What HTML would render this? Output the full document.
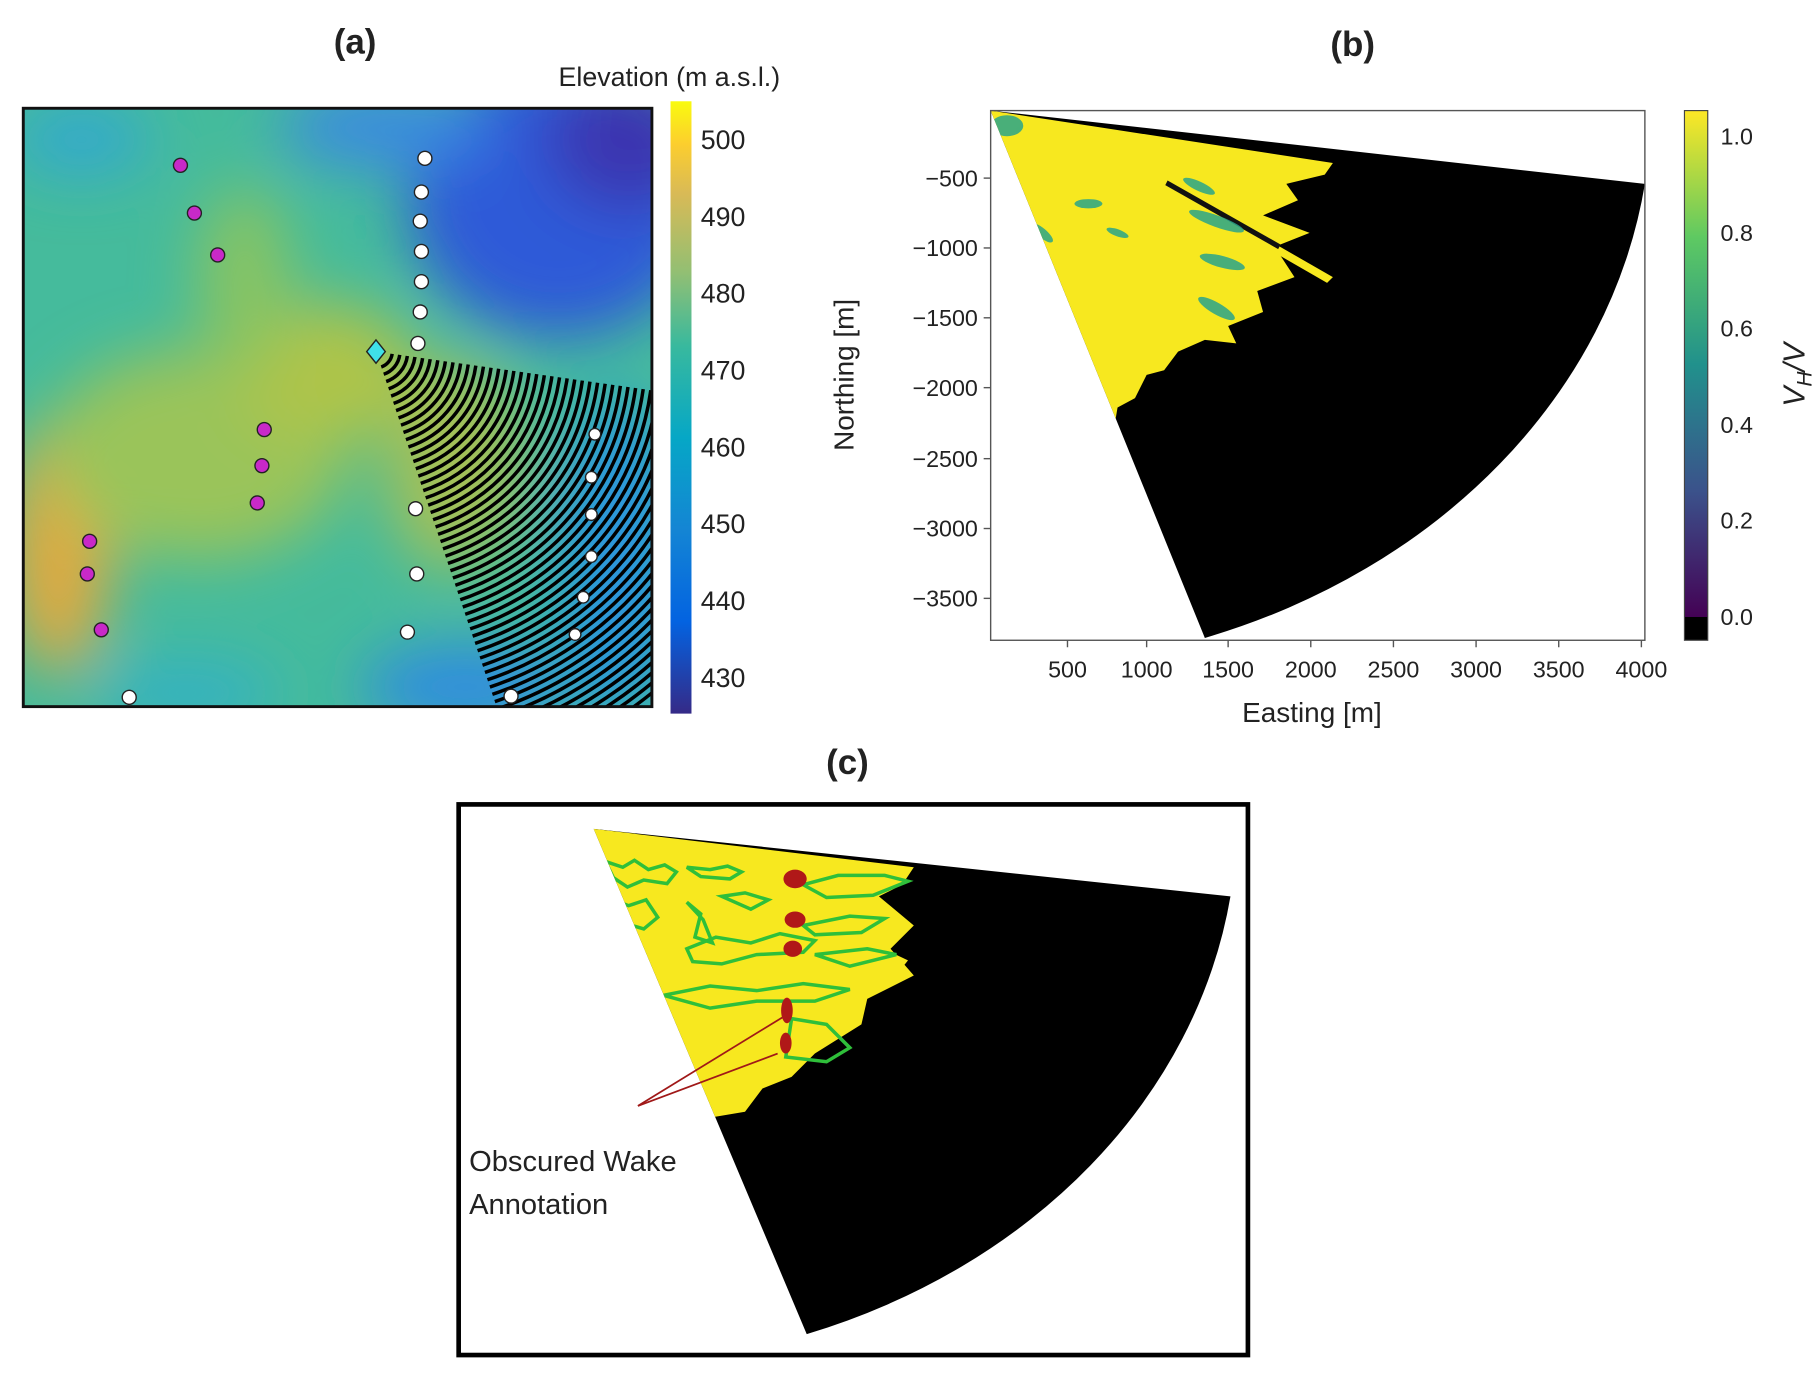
<!DOCTYPE html>
<html><head><meta charset="utf-8"><style>
html,body{margin:0;padding:0;background:#fff;}
svg{display:block;}
text{font-family:"Liberation Sans",sans-serif;fill:#222;}
</style></head><body>
<svg id="s" width="1816" height="1376" viewBox="0 0 1560 1182" preserveAspectRatio="none" xmlns="http://www.w3.org/2000/svg">
<defs>
<linearGradient id="parula" x1="0" y1="1" x2="0" y2="0">
<stop offset="0" stop-color="#352a87"/><stop offset="0.15" stop-color="#0363e1"/><stop offset="0.3" stop-color="#1485d4"/><stop offset="0.45" stop-color="#06a7c6"/><stop offset="0.6" stop-color="#38b99e"/><stop offset="0.72" stop-color="#92bf73"/><stop offset="0.85" stop-color="#d9ba56"/><stop offset="0.93" stop-color="#fcce2e"/><stop offset="1" stop-color="#f9fb0e"/>
</linearGradient>
<linearGradient id="viridis" x1="0" y1="1" x2="0" y2="0">
<stop offset="0" stop-color="#440154"/><stop offset="0.25" stop-color="#3b528b"/><stop offset="0.5" stop-color="#21918c"/><stop offset="0.75" stop-color="#5ec962"/><stop offset="1" stop-color="#fde725"/>
</linearGradient>
<clipPath id="boxa"><rect x="20" y="93" width="540" height="514"/></clipPath>
<clipPath id="wa"><path d="M323,302 L900,180 L560,1000 Z"/></clipPath>
<clipPath id="wb"><path d="M851,95 L1413,158 A570,484 0 0,1 1035,548 Z"/></clipPath>
<clipPath id="wc"><path d="M510,712 L1057,770 A555,470 0 0,1 693,1146 Z"/></clipPath>
<filter id="blur"><feGaussianBlur stdDeviation="26"/></filter>
</defs>

<!-- Panel a -->
<text x="305" y="46" font-size="30" font-weight="bold" text-anchor="middle">(a)</text>
<text x="575" y="74" font-size="23" text-anchor="middle">Elevation (m a.s.l.)</text>
<g clip-path="url(#boxa)">
<rect x="20" y="93" width="540" height="514" fill="#45bb9c"/>
<g filter="url(#blur)">
<ellipse cx="480" cy="170" rx="130" ry="120" fill="#2f5ad8"/>
<ellipse cx="540" cy="120" rx="70" ry="60" fill="#3b36b0"/>
<ellipse cx="330" cy="110" rx="90" ry="35" fill="#3a8ae0"/>
<ellipse cx="70" cy="120" rx="60" ry="30" fill="#30a8d0"/>
<ellipse cx="50" cy="470" rx="45" ry="110" fill="#e0aa40"/>
<ellipse cx="170" cy="390" rx="130" ry="90" fill="#9ac45a"/>
<ellipse cx="280" cy="320" rx="80" ry="60" fill="#aec44a"/>
<ellipse cx="210" cy="240" rx="40" ry="80" fill="#88c462"/>
<ellipse cx="390" cy="400" rx="60" ry="90" fill="#a4c056"/>
<ellipse cx="530" cy="480" rx="50" ry="140" fill="#2a95dc"/>
<ellipse cx="400" cy="590" rx="90" ry="35" fill="#2f8ae2"/>
<ellipse cx="160" cy="595" rx="80" ry="25" fill="#30b0c8"/>
</g>
<g id="arcs" clip-path="url(#wa)" fill="none" stroke="#000" stroke-width="3"></g>
</g>
<rect x="20" y="93" width="540" height="514" fill="none" stroke="#111" stroke-width="2.5"/>
<g stroke="#222" stroke-width="1.2">
<circle cx="155" cy="142" r="6" fill="#c829c8"/><circle cx="167" cy="183" r="6" fill="#c829c8"/><circle cx="187" cy="219" r="6" fill="#c829c8"/>
<circle cx="227" cy="369" r="6" fill="#c829c8"/><circle cx="225" cy="400" r="6" fill="#c829c8"/><circle cx="221" cy="432" r="6" fill="#c829c8"/>
<circle cx="77" cy="465" r="6" fill="#c829c8"/><circle cx="75" cy="493" r="6" fill="#c829c8"/><circle cx="87" cy="541" r="6" fill="#c829c8"/>
<circle cx="365" cy="136" r="6" fill="#fff"/><circle cx="362" cy="165" r="6" fill="#fff"/><circle cx="361" cy="190" r="6" fill="#fff"/><circle cx="362" cy="216" r="6" fill="#fff"/><circle cx="362" cy="242" r="6" fill="#fff"/><circle cx="361" cy="268" r="6" fill="#fff"/><circle cx="359" cy="295" r="6" fill="#fff"/>
<circle cx="357" cy="437" r="6" fill="#fff"/><circle cx="358" cy="493" r="6" fill="#fff"/><circle cx="350" cy="543" r="6" fill="#fff"/><circle cx="111" cy="599" r="6" fill="#fff"/><circle cx="439" cy="598" r="6" fill="#fff"/>
<circle cx="511" cy="373" r="5" fill="#fff"/><circle cx="508" cy="410" r="5" fill="#fff"/><circle cx="508" cy="442" r="5" fill="#fff"/><circle cx="508" cy="478" r="5" fill="#fff"/><circle cx="501" cy="513" r="5" fill="#fff"/><circle cx="494" cy="545" r="5" fill="#fff"/>
</g>
<path d="M323,292 L331,302 L323,312 L315,302 Z" fill="#3fe0e8" stroke="#222" stroke-width="1.2"/>
<rect x="576" y="87" width="18" height="526" fill="url(#parula)"/>
<g font-size="23" fill="#333">
<text x="602" y="128">500</text><text x="602" y="194">490</text><text x="602" y="260">480</text><text x="602" y="326">470</text><text x="602" y="392">460</text><text x="602" y="458">450</text><text x="602" y="524">440</text><text x="602" y="590">430</text>
</g>

<!-- Panel b -->
<text x="1162" y="48" font-size="30" font-weight="bold" text-anchor="middle">(b)</text>
<path d="M851,95 L1413,158 A570,484 0 0,1 1035,548 Z" fill="#000"/>
<g clip-path="url(#wb)">
<path d="M851,95 L1145,140 1138,150 1105,158 1115,172 1085,185 1125,200 1095,212 1112,238 1080,250 1085,268 1055,280 1062,295 1035,292 1012,302 1000,318 985,322 975,342 960,350 958,362 900,400 800,300 Z" fill="#f7e81f"/>
<path d="M1000,155 L1145,238 1140,243 996,160 Z" fill="#f7e81f"/>
<path d="M1003,155 L1100,210 1098,214 1001,159 Z" fill="#111"/>
<g fill="#2aa58a" opacity="0.85">
<ellipse cx="1045" cy="190" rx="25" ry="5" transform="rotate(20 1045 190)"/>
<ellipse cx="1050" cy="225" rx="20" ry="5" transform="rotate(15 1050 225)"/>
<ellipse cx="1045" cy="265" rx="18" ry="5" transform="rotate(30 1045 265)"/>
<ellipse cx="1030" cy="160" rx="15" ry="4" transform="rotate(25 1030 160)"/>
<ellipse cx="895" cy="200" rx="12" ry="4" transform="rotate(40 895 200)"/>
<ellipse cx="935" cy="175" rx="12" ry="4"/>
<ellipse cx="960" cy="200" rx="10" ry="3" transform="rotate(20 960 200)"/>
<ellipse cx="865" cy="108" rx="14" ry="9"/>
</g>
</g>
<rect x="851" y="95" width="562" height="455" fill="none" stroke="#555" stroke-width="1.2"/>
<g stroke="#555" stroke-width="1.2">
<line x1="845" y1="153" x2="851" y2="153"/><line x1="845" y1="213" x2="851" y2="213"/><line x1="845" y1="273" x2="851" y2="273"/><line x1="845" y1="333" x2="851" y2="333"/><line x1="845" y1="394" x2="851" y2="394"/><line x1="845" y1="454" x2="851" y2="454"/><line x1="845" y1="514" x2="851" y2="514"/>
<line x1="917" y1="550" x2="917" y2="556"/><line x1="985" y1="550" x2="985" y2="556"/><line x1="1055" y1="550" x2="1055" y2="556"/><line x1="1126" y1="550" x2="1126" y2="556"/><line x1="1197" y1="550" x2="1197" y2="556"/><line x1="1268" y1="550" x2="1268" y2="556"/><line x1="1339" y1="550" x2="1339" y2="556"/><line x1="1410" y1="550" x2="1410" y2="556"/>
</g>
<g font-size="20" fill="#333" text-anchor="end">
<text x="840" y="160">−500</text><text x="840" y="220">−1000</text><text x="840" y="280">−1500</text><text x="840" y="340">−2000</text><text x="840" y="401">−2500</text><text x="840" y="461">−3000</text><text x="840" y="521">−3500</text>
</g>
<g font-size="20" fill="#333" text-anchor="middle">
<text x="917" y="582">500</text><text x="985" y="582">1000</text><text x="1055" y="582">1500</text><text x="1126" y="582">2000</text><text x="1197" y="582">2500</text><text x="1268" y="582">3000</text><text x="1339" y="582">3500</text><text x="1410" y="582">4000</text>
</g>
<text x="1127" y="620" font-size="24" text-anchor="middle">Easting [m]</text>
<text transform="translate(733,322) rotate(-90)" font-size="24" text-anchor="middle">Northing [m]</text>
<rect x="1447" y="95" width="20" height="436" fill="url(#viridis)"/>
<rect x="1447" y="530" width="20" height="20" fill="#000"/>
<rect x="1447" y="95" width="20" height="455" fill="none" stroke="#444" stroke-width="1"/>
<g font-size="20" fill="#333">
<text x="1478" y="124">1.0</text><text x="1478" y="207">0.8</text><text x="1478" y="289">0.6</text><text x="1478" y="372">0.4</text><text x="1478" y="454">0.2</text><text x="1478" y="537">0.0</text>
</g>
<text transform="translate(1550,322) rotate(-90)" font-size="26" font-style="italic" text-anchor="middle">V<tspan font-size="18" dy="6">H</tspan><tspan dy="-6">/V</tspan></text>

<!-- Panel c -->
<text x="728" y="665" font-size="30" font-weight="bold" text-anchor="middle">(c)</text>
<rect x="394" y="691" width="678" height="473" fill="none" stroke="#000" stroke-width="4"/>
<path d="M510,712 L1057,770 A555,470 0 0,1 693,1146 Z" fill="#000"/>
<g clip-path="url(#wc)">
<path d="M510,712 L785,745 775,760 755,770 785,795 765,815 785,838 745,858 740,880 700,905 680,925 655,935 640,955 610,960 550,990 480,800 Z" fill="#f7e81f"/>
<path d="M660,768 L780,825 776,830 656,773 Z" fill="#f7e81f"/>
<g fill="none" stroke="#2fbf3a" stroke-width="3">
<path d="M520,740 l15,5 10,-6 12,8 14,-4 10,6 -8,10 -20,-3 -14,6 -12,-8 z"/>
<path d="M590,745 l20,2 15,-3 12,5 -10,6 -25,-2 z"/>
<path d="M520,770 l20,8 15,-5 10,15 -12,10 -20,-6 -8,-12 z"/>
<path d="M590,775 l12,10 -5,20 15,5 -8,-20 z"/>
<path d="M620,770 l20,-3 20,6 -15,8 z"/>
<path d="M590,815 l25,-10 30,5 25,-8 30,6 -10,10 -40,2 -30,8 -25,-2 z"/>
<path d="M525,815 l15,10 -5,25 15,15 -12,-10 -8,-20 z"/>
<path d="M690,760 l30,-8 40,0 20,5 -30,12 -40,2 z"/>
<path d="M690,795 l40,-8 30,2 -20,12 -40,2 z"/>
<path d="M700,820 l45,-5 25,5 -40,10 z"/>
<path d="M570,855 l40,-8 40,4 40,-6 40,5 -30,10 -50,0 -40,6 z"/>
<path d="M680,875 l30,5 20,20 -20,12 -35,-4 z"/>
</g>
<g fill="#b01818">
<ellipse cx="683" cy="755" rx="10" ry="8"/><ellipse cx="683" cy="790" rx="9" ry="7"/><ellipse cx="681" cy="815" rx="8" ry="7"/>
<ellipse cx="676" cy="868" rx="5" ry="11"/><ellipse cx="675" cy="896" rx="5" ry="9"/>
</g>
</g>
<g stroke="#a01818" stroke-width="1.5" fill="none">
<line x1="548" y1="950" x2="672" y2="874"/><line x1="548" y1="950" x2="668" y2="905"/>
</g>
<text x="403" y="1006" font-size="25">Obscured Wake</text>
<text x="403" y="1043" font-size="25">Annotation</text>
</svg>
<script>
var g=document.getElementById('arcs'),s='';
var a1=8*Math.PI/180,a2=72*Math.PI/180;
for(var r=14;r<380;r+=6.6){
 var x1=323+r*Math.cos(a1),y1=302+r*Math.sin(a1),x2=323+r*Math.cos(a2),y2=302+r*Math.sin(a2);
 s+='<path d="M'+x1+','+y1+' A'+r+','+r+' 0 0,1 '+x2+','+y2+'"/>';
}
g.innerHTML=s;
</script>
</body></html>
